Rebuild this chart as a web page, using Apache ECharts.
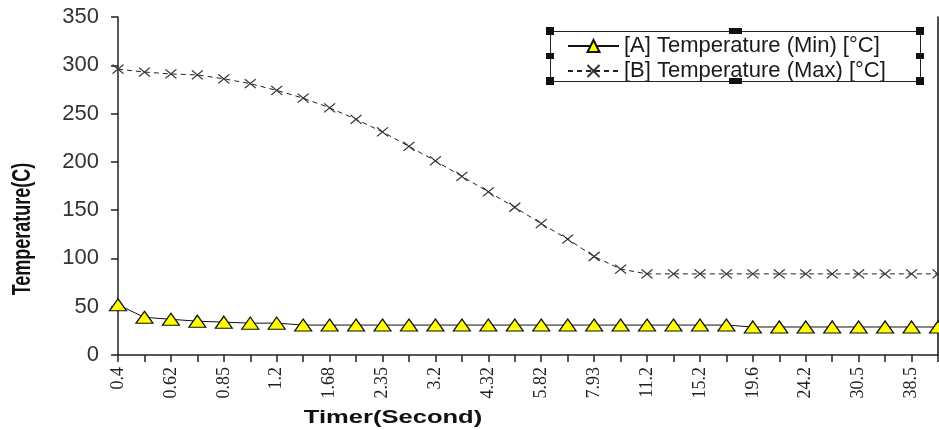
<!DOCTYPE html>
<html>
<head>
<meta charset="utf-8">
<style>
  html, body { margin: 0; padding: 0; background: #fff; }
  #chart { width: 939px; height: 430px; }
</style>
<script src="https://cdn.jsdelivr.net/npm/echarts@6.0.0/dist/echarts.min.js"></script>
</head>
<body>
<div id="chart"></div>
<script>
// Sampling times (seconds); every second one is labelled on the axis
const timeLabels = ['0.4', '0.5', '0.62', '0.73', '0.85', '1.0', '1.2', '1.4', '1.68', '2.0',
  '2.35', '2.75', '3.2', '3.7', '4.32', '5.0', '5.82', '6.8', '7.93', '9.4',
  '11.2', '13.2', '15.2', '17.4', '19.6', '21.9', '24.2', '27.3', '30.5', '34.5',
  '38.5', '43.2'];

// [A] minimum temperature, °C
const minTemp = [52, 39, 37, 35, 34, 33, 33, 31, 31, 31, 31, 31, 31, 31, 31, 31,
  31, 31, 31, 31, 31, 31, 31, 31, 29, 29, 29, 29, 29, 29, 29, 29];

// [B] maximum temperature, °C
const maxTemp = [296, 293, 291, 290, 286, 281, 274, 266, 256, 244, 231, 216, 201, 185, 169, 153,
  136, 120, 102, 89, 84, 84, 84, 84, 84, 84, 84, 84, 84, 84, 84, 84];

const seriesNames = ['[A] Temperature (Min) [°C]', '[B] Temperature (Max) [°C]'];
const yTicks = { min: 0, max: 350, step: 50 };

const chart = echarts.init(document.getElementById('chart'), null, { renderer: 'canvas' });

const crossPath = 'path://M0,0L10,8M10,0L0,8';

// selection handles around the legend frame
const frame = { x: 550, y: 31, w: 370, h: 50 };
const handles = [];
const hx = [frame.x, frame.x + frame.w / 2, frame.x + frame.w];
const hy = [frame.y, frame.y + frame.h / 2, frame.y + frame.h];
hx.forEach((cx, i) => {
  hy.forEach((cy, j) => {
    if (i === 1 && j === 1) return;
    const wide = (i === 1);
    const w = wide ? 13 : 8, h = wide ? 6 : (j === 1 ? 6 : 8);
    handles.push({
      type: 'rect', silent: true, z: 20,
      shape: { x: Math.round(cx - w / 2), y: Math.round(cy - h / 2), width: w, height: h },
      style: { fill: '#111' }
    });
  });
});

const option = {
  animation: false,
  backgroundColor: '#fff',
  grid: { left: 118, right: 1, top: 17, bottom: 75, containLabel: false },
  legend: {
    orient: 'vertical',
    left: 567, top: 35,
    padding: 0,
    itemGap: 3,
    itemWidth: 51,
    itemHeight: 15,
    data: seriesNames,
    textStyle: {
      fontFamily: 'Liberation Sans', fontSize: 22, color: '#1a1a1a', lineHeight: 20
    }
  },
  xAxis: {
    type: 'category',
    data: timeLabels,
    boundaryGap: false,
    axisLine: { lineStyle: { color: '#222', width: 1.5 } },
    axisTick: { interval: 0, length: 7, lineStyle: { color: '#222', width: 1.5 } },
    axisLabel: {
      interval: 1, rotate: 90, margin: 12,
      fontFamily: 'Liberation Serif', fontSize: 18, color: '#222'
    },
    splitLine: { show: false }
  },
  yAxis: [{
    type: 'value',
    min: yTicks.min, max: yTicks.max, interval: yTicks.step,
    axisLine: { show: true, lineStyle: { color: '#222', width: 1.5 } },
    axisTick: { show: true, length: 7, lineStyle: { color: '#222', width: 1.5 } },
    axisLabel: { margin: 19, fontFamily: 'Liberation Sans', fontSize: 22, color: '#333' },
    splitLine: { show: false }
  }, {
    type: 'value', position: 'right',
    min: yTicks.min, max: yTicks.max, interval: yTicks.step,
    axisLine: { show: true, lineStyle: { color: '#111', width: 1.5 } },
    axisTick: { show: false }, axisLabel: { show: false }, splitLine: { show: false }
  }],
  series: [{
    name: seriesNames[0],
    type: 'line',
    data: minTemp,
    symbol: 'triangle',
    symbolSize: [17, 12],
    lineStyle: { color: '#111', width: 1 },
    itemStyle: { color: '#ffff00', borderColor: '#111', borderWidth: 1.2 },
    z: 3
  }, {
    name: seriesNames[1],
    type: 'line',
    data: maxTemp,
    symbol: crossPath,
    symbolSize: [11, 9],
    lineStyle: { color: '#222', width: 1, type: [5, 4] },
    itemStyle: { color: '#333', borderColor: '#333', borderWidth: 1.2 },
    z: 2
  }],
  graphic: [
    {
      type: 'rect', silent: true, z: 15,
      shape: { x: frame.x + 0.5, y: frame.y + 0.5, width: frame.w, height: frame.h },
      style: { fill: 'none', stroke: '#222', lineWidth: 1 }
    },
    ...handles,
    {
      type: 'text', silent: true, z: 20,
      x: 393, y: 418, scaleX: 1.42,
      style: {
        text: 'Timer(Second)', font: 'bold 18px "Liberation Sans"', fill: '#111',
        align: 'center', verticalAlign: 'middle',
        textAlign: 'center', textVerticalAlign: 'middle'
      }
    },
    {
      type: 'text', silent: true, z: 20,
      x: 23, y: 229, rotation: Math.PI / 2, scaleY: 1.42,
      style: {
        text: 'Temperature(C)', font: 'bold 18px "Liberation Sans"', fill: '#111',
        align: 'center', verticalAlign: 'middle',
        textAlign: 'center', textVerticalAlign: 'middle'
      }
    }
  ]
};

chart.setOption(option);
</script>
</body>
</html>
